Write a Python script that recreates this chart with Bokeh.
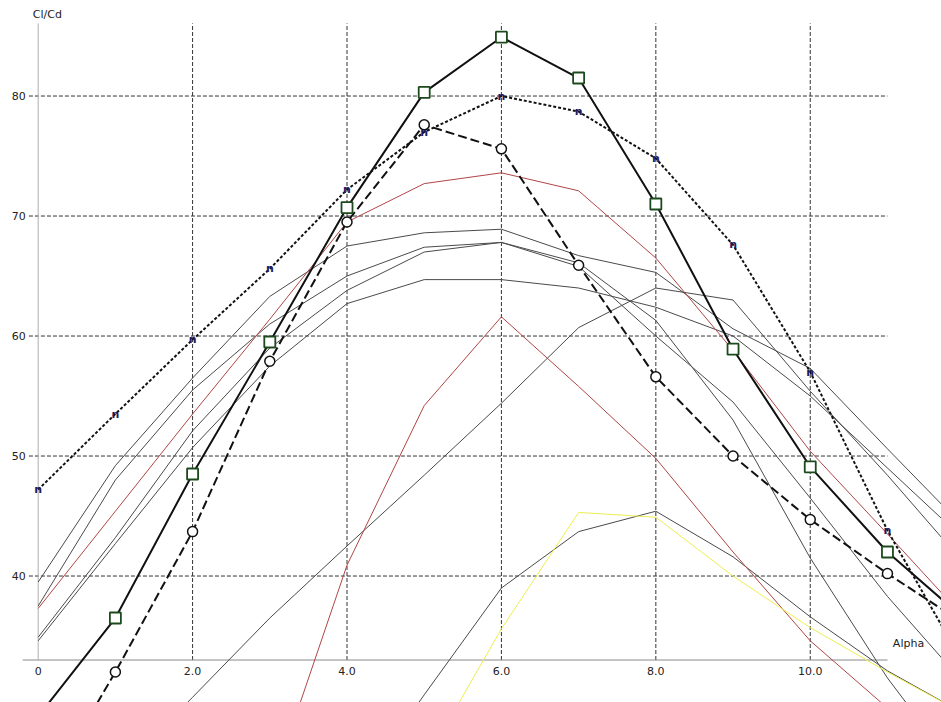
from bokeh.plotting import figure
from bokeh.models import Range1d
from bokeh.core.properties import value
from bokeh.embed import file_html
from bokeh.resources import INLINE

# Angle of attack (Alpha) and glide ratio (Cl/Cd) curves
alpha = [0, 1, 2, 3, 4, 5, 6, 7, 8, 9, 10, 11, 12]

squares = [28.3, 36.5, 48.5, 59.5, 70.7, 80.3, 84.9, 81.5, 71.0, 58.9, 49.1, 42.0, 36.4]
circles = [21.0, 32.0, 43.7, 57.9, 69.5, 77.6, 75.6, 65.9, 56.6, 50.0, 44.7, 40.2, 36.0]
dotted_n = [47.2, 53.5, 59.7, 65.6, 72.2, 77.0, 80.0, 78.7, 74.8, 67.6, 57.0, 43.8, 32.5]

red_high = [37.3, 45.4, 53.5, 61.4, 69.5, 72.7, 73.6, 72.1, 66.5, 58.8, 50.4, 43.5, 36.5]
alpha_red_low = [3, 4, 5, 6, 7, 8, 9, 10, 11, 12]
red_low = [22.0, 40.9, 54.2, 61.6, 55.8, 49.8, 42.0, 34.6, 29.0, 24.0]

alpha_yellow = [5, 6, 7, 8, 9, 10, 11, 12]
yellow = [24.4, 35.6, 45.3, 44.9, 40.0, 35.7, 32.0, 28.5]

gray_1 = [39.5, 49.2, 56.5, 63.3, 67.5, 68.6, 68.9, 66.7, 65.3, 60.6, 57.3, 50.6, 44.0]
gray_2 = [37.5, 48.0, 55.5, 61.0, 65.0, 67.4, 67.8, 66.1, 61.3, 53.0, 41.5, 31.5, 23.0]
gray_3 = [34.9, 43.2, 52.1, 59.0, 63.8, 67.0, 67.8, 65.8, 60.0, 54.5, 46.5, 38.3, 31.0]
gray_4 = [34.6, 42.7, 50.7, 57.5, 62.7, 64.7, 64.7, 64.0, 62.4, 60.0, 55.0, 49.0, 43.0]
gray_5 = [16.7, 23.3, 29.9, 36.5, 42.5, 48.4, 54.4, 60.7, 64.0, 63.0, 55.4, 48.4, 41.0]
alpha_gray_6 = [4, 5, 6, 7, 8, 9, 10, 11, 12]
gray_6 = [21.0, 30.1, 39.0, 43.7, 45.4, 41.6, 36.6, 32.1, 28.5]

x_ticks = [0, 2, 4, 6, 8, 10]
x_tick_labels = ["0", "2.0", "4.0", "6.0", "8.0", "10.0"]
y_ticks = [40, 50, 60, 70, 80]
y_tick_labels = ["40", "50", "60", "70", "80"]

X_MIN, X_MAX = -0.488, 11.70
Y_MIN, Y_MAX = 29.46, 87.96
AXIS_Y = 33.0
AXIS_X_END = 11.0
AXIS_X_START = -0.2
AXIS_Y_TOP = 86.05
N_MARKED = 12  # markers are drawn for alpha 0..11

p = figure(width=941, height=702, output_backend="svg", toolbar_location=None,
           x_range=Range1d(X_MIN, X_MAX), y_range=Range1d(Y_MIN, Y_MAX),
           x_axis_location=None, y_axis_location=None, min_border=0)
p.outline_line_color = None
p.background_fill_color = "white"
p.border_fill_color = "white"
p.xgrid.visible = False
p.ygrid.visible = False

FONT = value("DejaVu Sans")
grid_color = "#333333"

# dashed grid
p.segment(x0=x_ticks[1:], y0=[AXIS_Y] * 5, x1=x_ticks[1:], y1=[AXIS_Y_TOP] * 5,
          line_color=grid_color, line_width=1, line_dash="4 2")
p.segment(x0=[AXIS_X_START + 0.08] * len(y_ticks), y0=y_ticks,
          x1=[AXIS_X_END] * len(y_ticks), y1=y_ticks,
          line_color=grid_color, line_width=1, line_dash="4 2")

# axis lines
p.segment(x0=[AXIS_X_START], y0=[AXIS_Y], x1=[AXIS_X_END], y1=[AXIS_Y],
          line_color="#8a8a8a", line_width=1)
p.segment(x0=[0], y0=[AXIS_Y], x1=[0], y1=[AXIS_Y_TOP],
          line_color="#b0b0b0", line_width=1)

# thin curves
for ys, xs in [(gray_1, alpha), (gray_2, alpha), (gray_3, alpha), (gray_4, alpha),
               (gray_5, alpha), (gray_6, alpha_gray_6)]:
    p.line(xs, ys, line_color="#4a4a4a", line_width=1)
p.line(alpha, red_high, line_color="#b04545", line_width=1)
p.line(alpha_red_low, red_low, line_color="#b04545", line_width=1)
p.line(alpha_yellow, yellow, line_color="#eeee50", line_width=1)

# highlighted curves
p.line(alpha, dotted_n, line_color="#111111", line_width=2, line_dash="3 2")
p.line(alpha, circles, line_color="#111111", line_width=2, line_dash="9 4")
p.line(alpha, squares, line_color="#111111", line_width=2)

p.scatter(alpha[1:N_MARKED], circles[1:N_MARKED], marker="circle", size=10,
          fill_color="white", line_color="#111111", line_width=1.5)
p.scatter(alpha[1:N_MARKED], squares[1:N_MARKED], marker="square", size=11,
          fill_color="white", line_color="#1d4a1d", line_width=1.8)
p.text(x=alpha[:N_MARKED], y=dotted_n[:N_MARKED], text=["n"] * N_MARKED,
       text_font=FONT, text_font_size="11px", text_font_style="bold",
       text_color="#1c1c64", text_align="center", text_baseline="middle")

# tick labels and axis titles
p.text(x=x_ticks, y=[32.38] * len(x_ticks), text=x_tick_labels, text_font=FONT,
       text_font_size="11px", text_color="#222222", text_align="center",
       text_baseline="top")
p.text(x=[-0.16] * len(y_ticks), y=y_ticks, text=y_tick_labels, text_font=FONT,
       text_font_size="11px", text_color="#222222", text_align="right",
       text_baseline="middle")
p.text(x=[-0.07], y=[86.8], text=["Cl/Cd"], text_font=FONT, text_font_size="11px",
       text_color="#222222", text_align="left", text_baseline="middle")
p.text(x=[11.07], y=[34.38], text=["Alpha"], text_font=FONT, text_font_size="11px",
       text_color="#222222", text_align="left", text_baseline="middle")

open("out.html", "w").write(file_html(p, INLINE))
